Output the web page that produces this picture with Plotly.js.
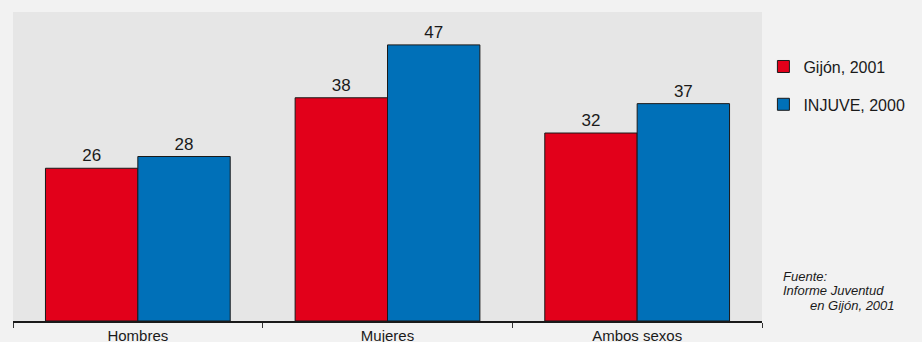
<!DOCTYPE html>
<html>
<head>
<meta charset="utf-8">
<script src="https://cdn.plot.ly/plotly-3.0.1.min.js"></script>
<style>
  html, body { margin: 0; padding: 0; background: #f2f2f2; }
  #chart { width: 922px; height: 342px; }
</style>
</head>
<body>
<div id="chart"></div>
<script>
// Categories and series values (percentages)
const categories = ["Hombres", "Mujeres", "Ambos sexos"];
const gijon2001 = [26, 38, 32];
const injuve2000 = [28, 47, 37];
const seriesNames = ["Gijón, 2001", "INJUVE, 2000"];
const sourceLines = ["Fuente:", "Informe Juventud", "en Gijón, 2001"];

const FONT = "Liberation Sans, Arial, sans-serif";
const NOTE_FONT = { family: FONT, size: 13, color: "#1a1a1a", style: "italic" };

function barTrace(name, values, color, group) {
  return {
    type: "bar",
    name: name,
    x: categories,
    y: values,
    legendgroup: group,
    marker: { color: color, line: { color: "#1a1a1a", width: 1 } },
    text: values.map(String),
    textposition: "outside",
    textfont: { family: FONT, size: 17, color: "#1a1a1a" },
    cliponaxis: false,
    hoverinfo: "skip"
  };
}

const data = [
  barTrace(seriesNames[0], gijon2001, "#e2001a", "a"),
  barTrace(seriesNames[1], injuve2000, "#0070b8", "b")
];

// Source note: one annotation per line, stacked below each other
function noteLine(text, x, anchor, y) {
  return {
    xref: "paper", yref: "paper",
    x: x, y: y, xanchor: anchor, yanchor: "top",
    align: anchor, showarrow: false,
    text: text, font: NOTE_FONT
  };
}

const layout = {
  width: 922,
  height: 342,
  margin: { l: 13, r: 160, t: 12, b: 21, pad: 0 },
  paper_bgcolor: "#f2f2f2",
  plot_bgcolor: "#e6e6e6",
  barmode: "group",
  bargap: 0.26,
  bargroupgap: 0,
  font: { family: FONT, color: "#1a1a1a" },
  showlegend: true,
  legend: {
    xref: "container", yref: "container",
    x: 0.828, xanchor: "left",
    y: 0.855, yanchor: "top",
    bgcolor: "rgba(0,0,0,0)",
    font: { family: FONT, size: 16, color: "#1a1a1a" },
    traceorder: "grouped",
    tracegroupgap: 14,
    itemwidth: 30
  },
  xaxis: {
    type: "category",
    showline: true,
    linecolor: "#1a1a1a",
    linewidth: 1.5,
    ticks: "outside",
    tickson: "boundaries",
    ticklen: 5,
    tickcolor: "#333",
    tickfont: { family: FONT, size: 15, color: "#1a1a1a" },
    showgrid: false,
    fixedrange: true
  },
  yaxis: {
    range: [0, 52.6],
    visible: false,
    showgrid: false,
    zeroline: false,
    fixedrange: true
  },
  annotations: [
    noteLine(sourceLines[0], 1.0254, "left", 0.176),
    noteLine(sourceLines[1], 1.0254, "left", 0.128),
    noteLine(sourceLines[2], 1.1803, "right", 0.080)
  ]
};

Plotly.newPlot("chart", data, layout, { displayModeBar: false, staticPlot: true });
</script>
</body>
</html>
